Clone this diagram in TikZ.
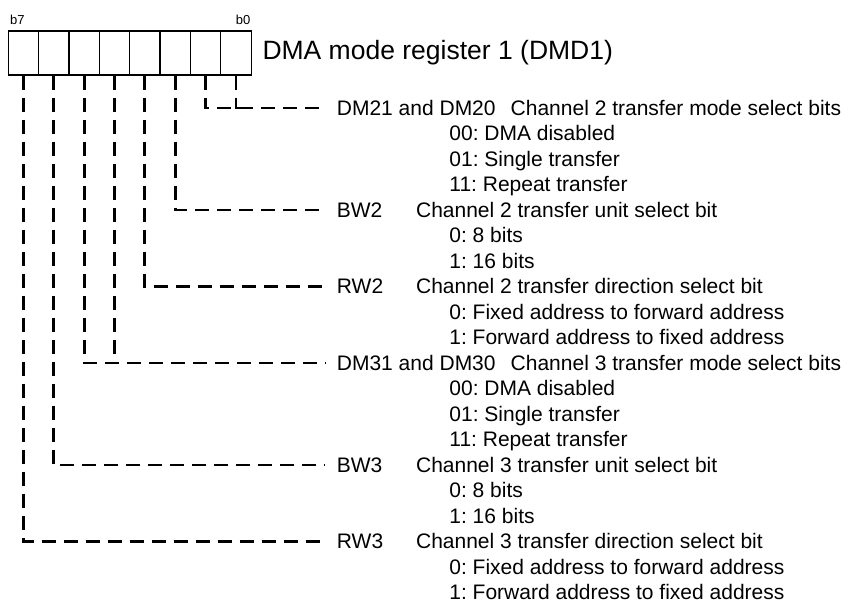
\documentclass[tikz,border=0pt]{standalone}
\usepackage{fontspec}
\setmainfont{Liberation Sans}
\usepackage{tikz}
\usetikzlibrary{positioning}
\tikzstyle{cell} = [draw, line width=0.6pt, minimum width=15.175pt, minimum height=22pt, inner sep=0pt]
\tikzstyle{lead} = [line width=1.4pt, dash pattern=on 7pt off 4pt, shorten >=5.8pt]
\tikzstyle{txt} = [anchor=west, inner sep=0pt, font=\fontsize{10.5pt}{12pt}\selectfont, text height=7.5pt, text depth=0pt]
\tikzstyle{bitlbl} = [inner sep=0pt, font=\fontsize{6.5pt}{7pt}\selectfont]
\frenchspacing

\begin{document}
\begin{tikzpicture}[x=0.5pt, y=-0.5pt]
    \useasboundingbox (0,0) rectangle (848,603);

    % Register cells
    \foreach \i in {0,...,7} {
        \node[cell] (c\i) at ({8.3+30.35*(7.5-\i)}, 53) {};
    }
    \node[bitlbl, anchor=south west] (b7) at ([xshift=1pt, yshift=2.5pt]c7.north west) {b7};
    \node[bitlbl, anchor=south east] (b0) at ([xshift=-0.5pt, yshift=2.5pt]c0.north east) {b0};
    \node[inner sep=0pt, font=\fontsize{13.25pt}{15pt}\selectfont, anchor=west, right=5.2pt of c0] (title) {DMA mode register 1 (DMD1)};

    % Bit names
    \node[txt] (dm2) at (336.5, 108) {DM21 and DM20\hspace{0.72em}Channel 2 transfer mode select bits};
    \node[txt] (bw2) at (336.5, 210) {BW2};
    \node[txt] (rw2) at (336.5, 286.5) {RW2};
    \node[txt] (dm3) at (336.5, 363) {DM31 and DM30\hspace{0.72em}Channel 3 transfer mode select bits};
    \node[txt] (bw3) at (336.5, 465) {BW3};
    \node[txt] (rw3) at (336.5, 541.5) {RW3};

    % Descriptions
    \node[txt] (bw2d) at (415.7, 210) {Channel 2 transfer unit select bit};
    \node[txt] (rw2d) at (415.7, 286.5) {Channel 2 transfer direction select bit};
    \node[txt] (bw3d) at (415.7, 465) {Channel 3 transfer unit select bit};
    \node[txt] (rw3d) at (415.7, 541.5) {Channel 3 transfer direction select bit};

    % Settings
    \node[txt] (s1) at (449, 133.5) {00: DMA disabled};
    \node[txt] (s2) at (449, 159) {01: Single transfer};
    \node[txt] (s3) at (449, 184.5) {11: Repeat transfer};
    \node[txt] (s4) at (449, 235.5) {0: 8 bits};
    \node[txt] (s5) at (449, 261) {1: 16 bits};
    \node[txt] (s6) at (449, 312) {0: Fixed address to forward address};
    \node[txt] (s7) at (449, 337.5) {1: Forward address to fixed address};
    \node[txt] (s8) at (449, 388.5) {00: DMA disabled};
    \node[txt] (s9) at (449, 414) {01: Single transfer};
    \node[txt] (s10) at (449, 439.5) {11: Repeat transfer};
    \node[txt] (s11) at (449, 490.5) {0: 8 bits};
    \node[txt] (s12) at (449, 516) {1: 16 bits};
    \node[txt] (s13) at (449, 567) {0: Fixed address to forward address};
    \node[txt] (s14) at (449, 592.5) {1: Forward address to fixed address};

    % Leader lines
    \draw[lead] (c1.south) |- (dm2.west);
    \draw[lead, shorten >=0pt] (c0.south) -- (c0.south |- dm2.west) -- ++(8,0);
    \draw[lead] (c2.south) |- (bw2.west);
    \draw[lead] (c3.south) |- (rw2.west);
    \draw[lead] (c5.south) |- (dm3.west);
    \draw[lead, shorten >=0pt] (c4.south) -- (c4.south |- dm3.west);
    \draw[lead] (c6.south) |- (bw3.west);
    \draw[lead] (c7.south) |- (rw3.west);
\end{tikzpicture}
\end{document}
